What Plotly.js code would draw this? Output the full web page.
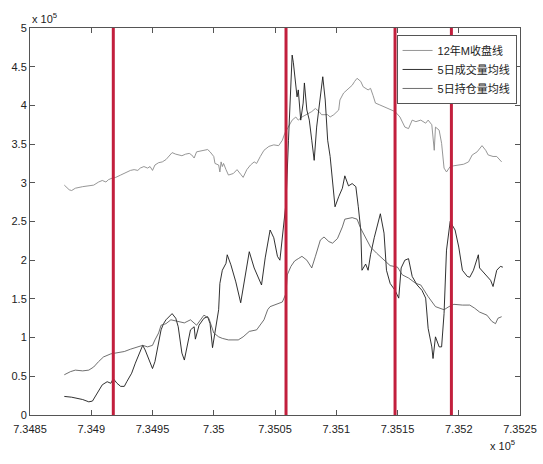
<!DOCTYPE html>
<html>
<head>
<meta charset="utf-8">
<script src="https://cdn.plot.ly/plotly-3.0.1.min.js"></script>
<style>
html,body{margin:0;padding:0;background:#fff;}
#chart{width:543px;height:464px;}
</style>
</head>
<body>
<div id="chart"></div>
<script>
// Series names
var seriesNames = ['12年M收盘线', '5日成交量均线', '5日持仓量均线'];

// Close price (x10^5), dates as MATLAB datenum
var priceDates = [734878,734882,734884,734887,734893,734898,734902,734906,734909,734912,
734914,734917,734920,734924,734928,734932,734935,734938,734940,734943,
734946,734948,734950,734952,734955,734958,734961,734963,734966,734969,
734971,734974,734977,734980,734982,734984,734986,734991,734995,734997,
735000,735001,735004,735005,735006,735007,735008,735010,735012,735016,
735019,735022,735024,735027,735030,735033,735035,735038,735041,735045,
735049,735053,735056,735058,735061,735064,735067,735069,735072,735076,
735080,735083,735086,735088,735093,735095,735098,735102,735103,735106,
735110,735113,735115,735117,735120,735122,735126,735128,735130,735132,
735135,735139,735143,735148,735152,735156,735159,735162,735165,735169,
735173,735175,735178,735180,735181,735184,735186,735188,735190,735193,
735196,735200,735204,735208,735211,735215,735219,735222,735224,735228,735231,735235];
var priceVals = [2.97,2.91,2.90,2.93,2.95,2.96,2.97,3.01,3.03,3.01,
3.04,3.06,3.07,3.10,3.13,3.16,3.17,3.16,3.19,3.21,
3.19,3.21,3.16,3.23,3.26,3.27,3.30,3.34,3.39,3.37,
3.36,3.35,3.37,3.38,3.36,3.32,3.40,3.42,3.43,3.40,
3.34,3.25,3.23,3.14,3.27,3.21,3.25,3.17,3.10,3.12,
3.17,3.11,3.07,3.17,3.23,3.27,3.25,3.34,3.42,3.47,
3.49,3.48,3.55,3.64,3.72,3.81,3.85,3.81,3.85,3.88,
3.92,3.96,3.92,3.88,3.88,3.85,3.88,3.94,4.07,4.16,
4.22,4.26,4.31,4.35,4.31,4.24,4.20,4.22,4.13,4.03,
4.01,3.98,3.96,3.92,3.85,3.72,3.70,3.81,3.79,3.81,
3.77,3.81,3.75,3.42,3.72,3.68,3.51,3.19,3.14,3.21,
3.22,3.23,3.24,3.27,3.36,3.40,3.48,3.42,3.36,3.34,3.34,3.27];

// 5-day average volume (x10^5)
var volDates = [734878,734884,734893,734898,734901,734905,734909,734913,734916,734918,
734921,734924,734927,734929,734933,734936,734940,734942,734944,734947,
734950,734952,734955,734957,734959,734961,734966,734969,734971,734974,
734976,734978,734981,734984,734985,734988,734992,734995,734997,734999,
735001,735004,735005,735007,735010,735011,735014,735018,735022,735026,
735029,735033,735036,735039,735042,735046,735049,735052,735054,735057,
735059,735061,735064,735065,735068,735069,735071,735073,735074,735076,
735078,735080,735082,735084,735086,735089,735091,735093,735095,735097,
735099,735102,735105,735107,735110,735113,735116,735118,735120,735121,
735124,735126,735128,735131,735134,735136,735139,735141,735144,735148,
735151,735153,735156,735159,735162,735166,735170,735173,735175,735178,
735179,735181,735184,735186,735188,735190,735193,735197,735200,735203,
735207,735209,735212,735216,735217,735222,735226,735228,735231,735234,735236];
var volVals = [0.24,0.23,0.20,0.17,0.18,0.28,0.39,0.43,0.41,0.47,
0.41,0.37,0.37,0.43,0.54,0.67,0.84,0.90,0.84,0.71,
0.60,0.69,0.93,1.10,1.18,1.23,1.31,1.25,1.14,0.80,
0.71,0.88,1.10,1.14,0.98,1.16,1.25,1.27,1.18,0.87,
1.06,1.36,1.70,1.87,1.96,2.07,1.94,1.72,1.45,1.81,
2.11,1.90,1.79,1.68,2.03,2.39,2.29,2.05,2.00,2.48,
2.74,3.55,4.65,4.55,4.11,4.20,3.81,4.03,4.29,3.94,
3.81,3.55,3.29,3.72,3.98,4.37,4.07,3.55,3.34,3.04,
2.69,2.82,2.93,3.09,2.96,2.99,2.95,2.69,2.39,1.87,
1.95,1.87,2.07,2.29,2.48,2.60,2.35,1.87,1.70,1.61,
1.51,1.90,2.00,2.02,1.79,1.68,1.61,1.51,1.12,0.88,
0.73,1.01,0.88,0.88,1.31,2.13,2.50,2.39,2.17,1.87,
1.79,1.78,1.87,2.07,1.90,1.81,1.74,1.66,1.87,1.92,1.91];

// 5-day average open interest (x10^5)
var oiDates = [734878,734883,734887,734893,734898,734902,734906,734910,734916,734921,
734927,734932,734938,734942,734946,734950,734952,734955,734957,734961,
734965,734970,734976,734981,734986,734992,734996,735000,735004,735007,
735012,735020,735024,735029,735035,735041,735044,735046,735052,735056,
735059,735060,735063,735066,735069,735072,735076,735080,735083,735087,
735090,735094,735097,735101,735105,735107,735113,735117,735120,735124,
735128,735133,735139,735144,735150,735154,735159,735165,735169,735175,
735181,735188,735192,735196,735203,735209,735213,735217,735223,735227,735230,735232,735235];
var oiVals = [0.52,0.56,0.58,0.57,0.58,0.62,0.69,0.75,0.79,0.80,
0.82,0.85,0.88,0.90,0.88,0.90,0.97,1.06,1.16,1.18,
1.23,1.21,1.19,1.23,1.16,1.29,1.25,1.06,1.01,0.99,
0.97,0.97,1.01,1.08,1.10,1.23,1.36,1.40,1.44,1.46,
1.57,1.81,1.92,1.99,2.02,2.05,2.00,1.90,2.05,2.26,
2.30,2.24,2.22,2.28,2.43,2.53,2.55,2.53,2.41,2.28,
2.17,2.09,2.00,1.93,1.91,1.81,1.77,1.70,1.68,1.53,
1.40,1.36,1.40,1.43,1.42,1.42,1.38,1.33,1.29,1.21,1.18,1.25,1.27];

// Vertical event markers (datenum)
var markerDates = [734918, 735059, 735148, 735194];

// Axis ticks
var xTickVals = [734850,734900,734950,735000,735050,735100,735150,735200,735250];
var xTickText = ['7.3485','7.349','7.3495','7.35','7.3505','7.351','7.3515','7.352','7.3525'];
var yTickVals = [0,0.5,1,1.5,2,2.5,3,3.5,4,4.5,5];
var yTickText = ['0','0.5','1','1.5','2','2.5','3','3.5','4','4.5','5'];

var FONT = 'Liberation Sans, Arial, Noto Sans CJK SC, sans-serif';

var traces = [
  {x: priceDates, y: priceVals, type: 'scatter', mode: 'lines', name: seriesNames[0],
   line: {color: '#8a8a8a', width: 0.9}},
  {x: volDates, y: volVals, type: 'scatter', mode: 'lines', name: seriesNames[1],
   line: {color: '#1a1a1a', width: 0.9}},
  {x: oiDates, y: oiVals, type: 'scatter', mode: 'lines', name: seriesNames[2],
   line: {color: '#4a4a4a', width: 0.8}}
];

var shapes = markerDates.map(function(d){
  return {type: 'line', xref: 'x', yref: 'paper', x0: d, x1: d, y0: 0, y1: 1,
          line: {color: '#c21f3d', width: 3}, layer: 'above'};
});

var axisCommon = {
  showgrid: false, zeroline: false, showline: true, linecolor: '#555', linewidth: 1,
  mirror: 'ticks', ticks: 'inside', ticklen: 5, tickcolor: '#555', tickwidth: 1,
  tickfont: {family: FONT, size: 11, color: '#222'}, tickmode: 'array'
};

var layout = {
  width: 543, height: 464,
  margin: {l: 30, r: 23, t: 28, b: 49},
  paper_bgcolor: '#fff', plot_bgcolor: '#fff',
  font: {family: FONT, size: 11, color: '#222'},
  xaxis: Object.assign({}, axisCommon, {range: [734850, 735250], tickvals: xTickVals, ticktext: xTickText, ticklabelstandoff: 4}),
  yaxis: Object.assign({}, axisCommon, {range: [0, 5], tickvals: yTickVals, ticktext: yTickText}),
  showlegend: true,
  legend: {x: 0.993, xanchor: 'right', y: 0.982, yanchor: 'top',
           bgcolor: '#fff', bordercolor: '#555', borderwidth: 1,
           font: {family: FONT, size: 11, color: '#222'}, tracegroupgap: 0},
  shapes: shapes,
  annotations: [
    {xref: 'paper', yref: 'paper', x: 0, y: 1, xanchor: 'left', yanchor: 'bottom',
     yshift: 1, text: 'x 10<sup>5</sup>', showarrow: false, font: {family: FONT, size: 11, color: '#222'}},
    {xref: 'paper', yref: 'paper', x: 1, y: 0, xanchor: 'right', yanchor: 'top',
     yshift: -21, xshift: -3, text: 'x 10<sup>5</sup>', showarrow: false, font: {family: FONT, size: 11, color: '#222'}}
  ]
};

Plotly.newPlot('chart', traces, layout, {displayModeBar: false, staticPlot: true});
</script>
</body>
</html>
